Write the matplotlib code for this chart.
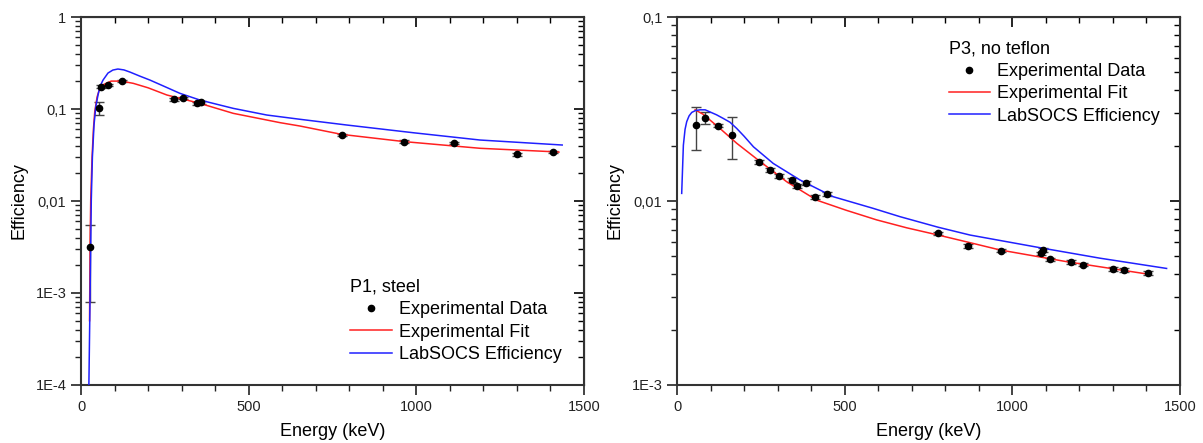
import numpy as np
import matplotlib.pyplot as plt
from matplotlib.ticker import FixedLocator, FuncFormatter, LogLocator, MultipleLocator, NullFormatter

plt.rcParams['font.family'] = ['Liberation Sans', 'DejaVu Sans']

# --- P1, steel (left panel) ---
p1_energy = [27, 54, 60, 81, 122, 277, 303, 347, 358, 777, 964, 1112, 1299, 1409]
p1_eff = [0.0032, 0.103, 0.175, 0.183, 0.201, 0.127, 0.131, 0.115, 0.118,
          0.052, 0.0442, 0.043, 0.0322, 0.0343]
p1_err_lo = [0.0024, 0.018, 0.006, 0.006, 0.006, 0.004, 0.004, 0.004, 0.004,
             0.0015, 0.0013, 0.0013, 0.001, 0.001]
p1_err_hi = [0.0023, 0.017, 0.006, 0.006, 0.006, 0.004, 0.004, 0.004, 0.004,
             0.0015, 0.0013, 0.0013, 0.001, 0.001]

p1_fit_e = [25.5, 27, 29, 33, 37, 41, 48, 56, 65, 75, 90, 120, 156, 200, 256,
            355, 454, 594, 653, 777, 964, 1190, 1409, 1425]
p1_fit_y = [0.0005, 0.0032, 0.0103, 0.030, 0.060, 0.0935, 0.135, 0.169, 0.182, 0.190,
            0.201, 0.201, 0.190, 0.170, 0.142, 0.115, 0.0897, 0.071, 0.0653,
            0.053, 0.0442, 0.0374, 0.0343, 0.034]

p1_lab_e = [23.5, 27, 30.7, 34, 38.8, 44, 50.7, 57, 65.6, 80.5, 95, 110, 128, 146,
            175, 206, 250, 295, 355, 454, 554, 653, 792, 991, 1190, 1435]
p1_lab_y = [0.0001, 0.0009, 0.0103, 0.030, 0.067, 0.105, 0.142, 0.177, 0.206, 0.246,
            0.265, 0.272, 0.266, 0.252, 0.228, 0.206, 0.175, 0.148, 0.125, 0.1016,
            0.086, 0.0773, 0.067, 0.0552, 0.046, 0.0406]

# --- P3, no teflon (right panel) ---
p3_energy = [56, 82.5, 123, 163, 244.5, 277, 305, 343, 357, 385, 411.5, 446,
             779, 869, 965, 1086, 1091, 1112, 1174, 1212, 1300, 1334, 1406]
p3_eff = [0.0259, 0.0284, 0.0256, 0.0229, 0.01637, 0.01472, 0.01368, 0.0130,
          0.0121, 0.01247, 0.01047, 0.01092, 0.00667, 0.00569, 0.00537, 0.00519,
          0.00542, 0.00482, 0.00465, 0.00451, 0.00429, 0.00421, 0.00404]
p3_err_lo = [0.0070, 0.0023, 0.0005, 0.0060, 0.0004, 0.0004, 0.0003, 0.0003,
             0.0003, 0.0003, 0.00025, 0.00025, 0.00015, 0.00013, 0.00012, 0.00012,
             0.00012, 0.00011, 0.0001, 0.0001, 0.0001, 0.0001, 0.0001]
p3_err_hi = [0.0067, 0.0022, 0.0005, 0.0058, 0.0004, 0.0004, 0.0003, 0.0003,
             0.0003, 0.0003, 0.00025, 0.00025, 0.00015, 0.00013, 0.00012, 0.00012,
             0.00012, 0.00011, 0.0001, 0.0001, 0.0001, 0.0001, 0.0001]

p3_fit_e = [54, 78, 128, 178, 242, 327, 417, 505, 596, 685, 779, 870, 963, 1162, 1406]
p3_fit_y = [0.0313, 0.0296, 0.0248, 0.0206, 0.0167, 0.01273, 0.0101, 0.0089, 0.00789,
            0.00715, 0.00653, 0.00596, 0.00542, 0.00468, 0.0040]

p3_lab_e = [14, 19, 24, 29, 36, 44, 55, 69, 84, 98, 118, 138, 158, 178, 200, 228,
            287, 367, 466, 585, 665, 779, 874, 1093, 1261, 1460]
p3_lab_y = [0.0110, 0.0201, 0.0245, 0.0270, 0.0290, 0.0303, 0.0310, 0.0313, 0.0313,
            0.0305, 0.0294, 0.0281, 0.0268, 0.0248, 0.0225, 0.0197, 0.0160, 0.0130,
            0.01055, 0.00912, 0.00822, 0.0072, 0.00653, 0.00553, 0.00489, 0.0043]

tick_text = {1e-4: '1E-4', 1e-3: '1E-3', 1e-2: '0,01', 1e-1: '0,1', 1.0: '1'}


def style_axes(ax, ylim, yticks, title, legend_loc, legend_anchor):
    ax.set_xlim(0, 1500)
    ax.set_yscale('log')
    ax.set_ylim(*ylim)
    ax.xaxis.set_major_locator(MultipleLocator(500))
    ax.xaxis.set_minor_locator(MultipleLocator(100))
    ax.yaxis.set_major_locator(FixedLocator(yticks))
    ax.yaxis.set_major_formatter(FuncFormatter(lambda v, p: tick_text.get(float(f'{v:.0e}'), '')))
    ax.yaxis.set_minor_locator(LogLocator(base=10, subs=np.arange(2, 10)))
    ax.yaxis.set_minor_formatter(NullFormatter())
    ax.tick_params(which='major', direction='out', length=7, width=1.2, labelsize=10.5, colors='#222')
    ax.tick_params(which='minor', direction='out', length=4, width=1.0, colors='#222')
    for s in ax.spines.values():
        s.set_linewidth(1.5)
        s.set_color('#333')

    # mirrored ticks pointing inward on top and right
    top = ax.secondary_xaxis('top')
    top.xaxis.set_major_locator(MultipleLocator(500))
    top.xaxis.set_minor_locator(MultipleLocator(100))
    top.tick_params(which='major', direction='in', length=7, width=1.2, labeltop=False)
    top.tick_params(which='minor', direction='in', length=4, width=1.0)
    right = ax.secondary_yaxis('right')
    right.yaxis.set_major_locator(FixedLocator(yticks))
    right.yaxis.set_minor_locator(LogLocator(base=10, subs=np.arange(2, 10)))
    right.yaxis.set_minor_formatter(NullFormatter())
    right.tick_params(which='major', direction='in', length=7, width=1.2, labelright=False)
    right.tick_params(which='minor', direction='in', length=4, width=1.0)

    ax.set_xlabel('Energy (keV)', fontsize=13, labelpad=7)
    ax.set_ylabel('Efficiency', fontsize=13, labelpad=6)

    leg = ax.legend(title=title, loc=legend_loc, bbox_to_anchor=legend_anchor,
                    frameon=False, fontsize=13, title_fontsize=13, alignment='left',
                    handlelength=2.3, handletextpad=0.4, labelspacing=0.3,
                    borderaxespad=0, borderpad=0)
    return leg


fig = plt.figure(figsize=(12.03, 4.43), dpi=100)
ax1 = fig.add_axes([81 / 1203, 58 / 443, 503 / 1203, 368 / 443])
ax2 = fig.add_axes([677 / 1203, 58 / 443, 503 / 1203, 368 / 443])

for ax, e, y, lo, hi, fe, fy, le, ly in [
        (ax1, p1_energy, p1_eff, p1_err_lo, p1_err_hi, p1_fit_e, p1_fit_y, p1_lab_e, p1_lab_y),
        (ax2, p3_energy, p3_eff, p3_err_lo, p3_err_hi, p3_fit_e, p3_fit_y, p3_lab_e, p3_lab_y)]:
    ax.errorbar(e, y, yerr=[lo, hi], fmt='none', ecolor='#444', elinewidth=1.0,
                capsize=3.5, capthick=1.0, zorder=2)
    ax.plot(e, y, 'o', color='black', markersize=4.5, label='Experimental Data', zorder=4)
    ax.plot(fe, fy, '-', color='#ff2020', linewidth=1.1, label='Experimental Fit', zorder=3)
    ax.plot(le, ly, '-', color='#2020ff', linewidth=1.1, label='LabSOCS Efficiency', zorder=3)

style_axes(ax1, (1e-4, 1), [1e-4, 1e-3, 1e-2, 1e-1, 1], 'P1, steel',
           'lower left', (0.535, 0.06))
style_axes(ax2, (1e-3, 0.1), [1e-3, 1e-2, 1e-1], 'P3, no teflon',
           'upper left', (0.54, 0.936))

fig.savefig('out.png', dpi=100)
